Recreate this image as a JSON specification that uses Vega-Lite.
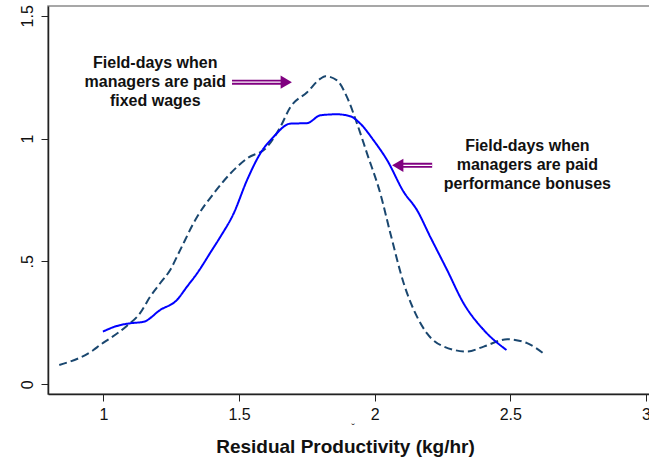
{
  "$schema": "https://vega.github.io/schema/vega-lite/v6.json",
  "autosize": {"type": "none"},
  "padding": {"left": 48, "top": 6, "right": 0, "bottom": 67},
  "width": 625,
  "height": 388,
  "background": "white",
  "config": {
    "view": {"stroke": "#8a8a8a", "strokeWidth": 1.5},
    "font": "Liberation Sans",
    "axis": {
      "grid": false,
      "domainColor": "#222222",
      "domainWidth": 1.5,
      "tickColor": "#222222",
      "tickWidth": 1,
      "tickSize": 7,
      "labelFont": "Liberation Sans",
      "labelFontSize": 16,
      "labelColor": "#111111",
      "titleFont": "Liberation Sans",
      "titleColor": "#111111"
    }
  },
  "datasets": {
    "curves": [
      {"series": "fixed", "x": 0.837, "y": 0.078},
      {"series": "fixed", "x": 0.963, "y": 0.139},
      {"series": "fixed", "x": 0.988, "y": 0.160},
      {"series": "fixed", "x": 1.025, "y": 0.187},
      {"series": "fixed", "x": 1.086, "y": 0.237},
      {"series": "fixed", "x": 1.135, "y": 0.289},
      {"series": "fixed", "x": 1.172, "y": 0.356},
      {"series": "fixed", "x": 1.209, "y": 0.411},
      {"series": "fixed", "x": 1.246, "y": 0.465},
      {"series": "fixed", "x": 1.277, "y": 0.533},
      {"series": "fixed", "x": 1.345, "y": 0.681},
      {"series": "fixed", "x": 1.406, "y": 0.776},
      {"series": "fixed", "x": 1.468, "y": 0.858},
      {"series": "fixed", "x": 1.529, "y": 0.919},
      {"series": "fixed", "x": 1.603, "y": 0.966},
      {"series": "fixed", "x": 1.652, "y": 1.047},
      {"series": "fixed", "x": 1.689, "y": 1.128},
      {"series": "fixed", "x": 1.751, "y": 1.189},
      {"series": "fixed", "x": 1.800, "y": 1.244},
      {"series": "fixed", "x": 1.818, "y": 1.254},
      {"series": "fixed", "x": 1.861, "y": 1.237},
      {"series": "fixed", "x": 1.898, "y": 1.169},
      {"series": "fixed", "x": 1.935, "y": 1.061},
      {"series": "fixed", "x": 1.972, "y": 0.939},
      {"series": "fixed", "x": 2.021, "y": 0.776},
      {"series": "fixed", "x": 2.058, "y": 0.614},
      {"series": "fixed", "x": 2.107, "y": 0.411},
      {"series": "fixed", "x": 2.156, "y": 0.275},
      {"series": "fixed", "x": 2.193, "y": 0.207},
      {"series": "fixed", "x": 2.255, "y": 0.153},
      {"series": "fixed", "x": 2.341, "y": 0.133},
      {"series": "fixed", "x": 2.402, "y": 0.153},
      {"series": "fixed", "x": 2.489, "y": 0.183},
      {"series": "fixed", "x": 2.562, "y": 0.167},
      {"series": "fixed", "x": 2.630, "y": 0.119},
      {"series": "bonus", "x": 0.998, "y": 0.214},
      {"series": "bonus", "x": 1.049, "y": 0.237},
      {"series": "bonus", "x": 1.099, "y": 0.248},
      {"series": "bonus", "x": 1.148, "y": 0.254},
      {"series": "bonus", "x": 1.209, "y": 0.302},
      {"series": "bonus", "x": 1.271, "y": 0.343},
      {"series": "bonus", "x": 1.308, "y": 0.397},
      {"series": "bonus", "x": 1.345, "y": 0.451},
      {"series": "bonus", "x": 1.400, "y": 0.546},
      {"series": "bonus", "x": 1.431, "y": 0.600},
      {"series": "bonus", "x": 1.480, "y": 0.695},
      {"series": "bonus", "x": 1.529, "y": 0.830},
      {"series": "bonus", "x": 1.578, "y": 0.939},
      {"series": "bonus", "x": 1.627, "y": 1.007},
      {"series": "bonus", "x": 1.689, "y": 1.061},
      {"series": "bonus", "x": 1.751, "y": 1.063},
      {"series": "bonus", "x": 1.800, "y": 1.095},
      {"series": "bonus", "x": 1.861, "y": 1.099},
      {"series": "bonus", "x": 1.910, "y": 1.091},
      {"series": "bonus", "x": 1.947, "y": 1.061},
      {"series": "bonus", "x": 1.996, "y": 0.993},
      {"series": "bonus", "x": 2.046, "y": 0.912},
      {"series": "bonus", "x": 2.107, "y": 0.783},
      {"series": "bonus", "x": 2.156, "y": 0.709},
      {"series": "bonus", "x": 2.205, "y": 0.600},
      {"series": "bonus", "x": 2.267, "y": 0.465},
      {"series": "bonus", "x": 2.328, "y": 0.329},
      {"series": "bonus", "x": 2.402, "y": 0.221},
      {"series": "bonus", "x": 2.486, "y": 0.139}
    ],
    "shafts": [
      {"x": 1.474, "x2": 1.66, "y": 1.230},
      {"x": 2.09, "x2": 2.212, "y": 0.891}
    ],
    "heads": [
      {"x": 1.674, "y": 1.230, "shape": "triangle-right"},
      {"x": 2.085, "y": 0.891, "shape": "triangle-left"}
    ],
    "notes": [
      {"x": 1.191, "y": 1.306, "text": "Field-days when\nmanagers are paid\nfixed wages"},
      {"x": 2.563, "y": 0.969, "text": "Field-days when\nmanagers are paid\nperformance bonuses"}
    ],
    "marks": [
      {"x": 1.92, "y": -0.16, "text": "ˇ"}
    ]
  },
  "layer": [
    {
      "data": {"name": "curves"},
      "mark": {"type": "line", "strokeWidth": 2, "interpolate": "monotone"},
      "encoding": {
        "x": {
          "field": "x", "type": "quantitative",
          "scale": {"domain": [0.7955, 3.1], "nice": false, "zero": false},
          "axis": {
            "values": [1, 1.5, 2, 2.5, 3],
            "format": "~g",
            "labelPadding": 5,
            "title": "Residual Productivity (kg/hr)",
            "titleFontSize": 19,
            "titleFontWeight": "bold",
            "titlePadding": 15,
            "titleX": 297,
            "titleAlign": "center"
          }
        },
        "y": {
          "field": "y", "type": "quantitative",
          "scale": {"domain": [-0.04, 1.54], "nice": false, "zero": false},
          "axis": {
            "values": [0, 0.5, 1, 1.5],
            "format": "~g",
            "labelExpr": "datum.value === 0.5 ? '.5' : datum.label",
            "labelAngle": 270,
            "labelAlign": "center",
            "labelBaseline": "bottom",
            "labelPadding": 6,
            "title": null
          }
        },
        "color": {
          "field": "series", "type": "nominal",
          "scale": {"domain": ["fixed", "bonus"], "range": ["#1a476f", "#0000ff"]},
          "legend": null
        },
        "strokeDash": {
          "field": "series", "type": "nominal",
          "scale": {"domain": ["fixed", "bonus"], "range": [[8, 4], [1, 0]]},
          "legend": null
        }
      }
    },
    {
      "data": {"name": "shafts"},
      "mark": {"type": "rule", "color": "#800080", "strokeWidth": 5},
      "encoding": {
        "x": {"field": "x", "type": "quantitative"},
        "x2": {"field": "x2"},
        "y": {"field": "y", "type": "quantitative"}
      }
    },
    {
      "data": {"name": "shafts"},
      "mark": {"type": "rule", "color": "white", "strokeWidth": 1.4},
      "encoding": {
        "x": {"field": "x", "type": "quantitative"},
        "x2": {"field": "x2"},
        "y": {"field": "y", "type": "quantitative"}
      }
    },
    {
      "data": {"name": "heads"},
      "mark": {"type": "point", "filled": true, "color": "#800080", "opacity": 1, "size": 170},
      "encoding": {
        "x": {"field": "x", "type": "quantitative"},
        "y": {"field": "y", "type": "quantitative"},
        "shape": {"field": "shape", "type": "nominal", "scale": null}
      }
    },
    {
      "data": {"name": "notes"},
      "mark": {"type": "text", "font": "Liberation Sans", "fontWeight": "bold", "fontSize": 16, "lineBreak": "\n", "lineHeight": 19, "align": "center", "baseline": "middle", "color": "#111111"},
      "encoding": {
        "x": {"field": "x", "type": "quantitative"},
        "y": {"field": "y", "type": "quantitative"},
        "text": {"field": "text"}
      }
    },
    {
      "data": {"name": "marks"},
      "mark": {"type": "text", "font": "Liberation Sans", "fontSize": 11, "align": "center", "baseline": "top", "color": "#111111"},
      "encoding": {
        "x": {"field": "x", "type": "quantitative"},
        "y": {"field": "y", "type": "quantitative"},
        "text": {"field": "text"}
      }
    }
  ]
}
